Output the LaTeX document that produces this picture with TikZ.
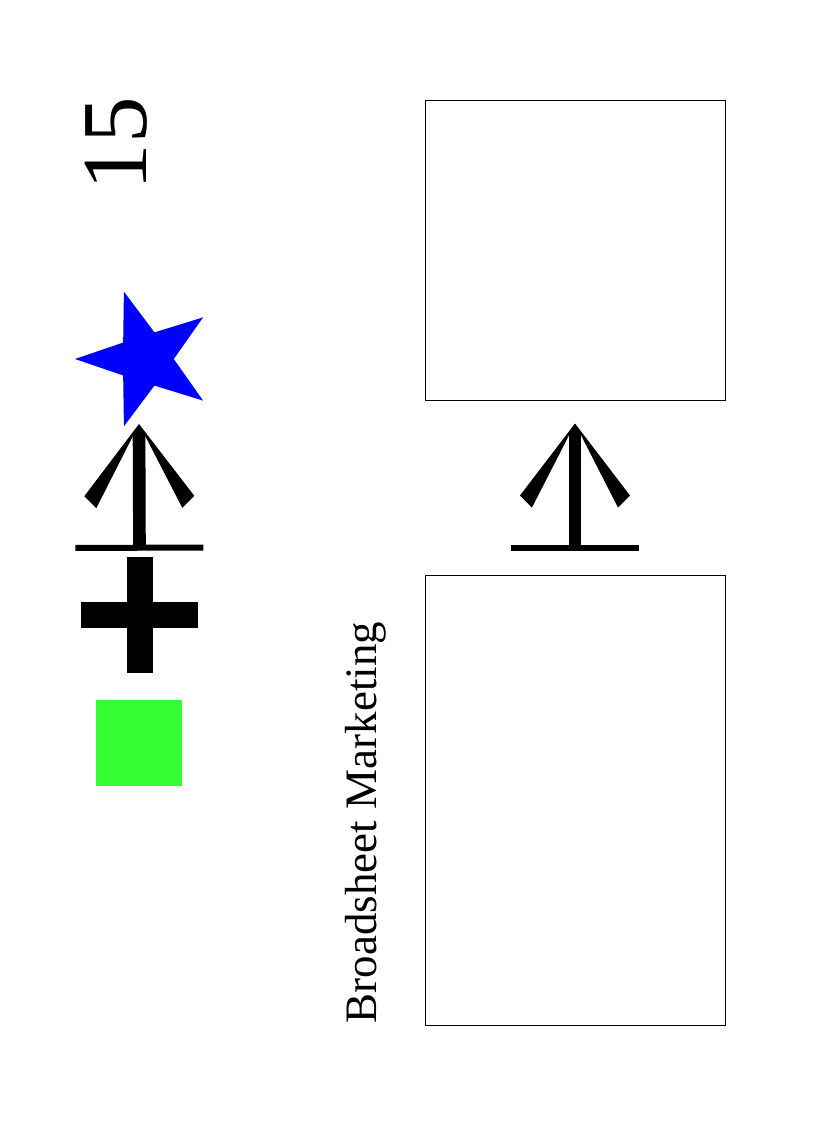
\documentclass[tikz,border=0pt]{standalone}
\usepackage{fontspec}
\setmainfont{Liberation Serif}
\usetikzlibrary{shapes.geometric, arrows.meta, positioning}
\definecolor{starblue}{RGB}{0, 0, 255}
\definecolor{tilegreen}{RGB}{51, 255, 51}
\pgfdeclarearrow{
    name = Wedge Barb,
    setup code = {
        \pgfarrowssettipend{0pt}
        \pgfarrowssetlineend{-7.5pt}
        \pgfarrowssetvisualbackend{-63pt}
    },
    drawing code = {
        \pgfpathmoveto{\pgfpointorigin}
        \pgfpathlineto{\pgfpoint{-54pt}{41.25pt}}
        \pgfpathlineto{\pgfpoint{-63pt}{32.25pt}}
        \pgfpathlineto{\pgfpoint{-9pt}{4.6pt}}
        \pgfpathlineto{\pgfpoint{-9pt}{-4.6pt}}
        \pgfpathlineto{\pgfpoint{-63pt}{-32.25pt}}
        \pgfpathlineto{\pgfpoint{-54pt}{-41.25pt}}
        \pgfpathclose
        \pgfusepathqfill
    }
}
\tikzset{
    box/.style={
        rectangle, draw=black, line width=0.75pt, inner sep=0pt,
        minimum width=225pt
    },
    link/.style={{Bar[width=96pt, line width=4.5pt]}-{Wedge Barb}, line width=9.5pt},
    bigstar/.style={
        star, star points=5, star point ratio=2.53, shape border rotate=90,
        minimum size=106.2pt, inner sep=0pt, fill=starblue
    },
    tile/.style={rectangle, minimum size=64.5pt, inner sep=0pt, fill=tilegreen},
    crossbox/.style={rectangle, minimum size=87pt, inner sep=0pt},
    sidelabel/.style={rotate=90, anchor=base, inner sep=0pt},
}
\begin{document}
\begin{tikzpicture}[x=0.75pt, y=-0.75pt]
    \useasboundingbox (0,0) rectangle (825,1125);

    \node[box, minimum height=225pt] (upper) at (575,250) {};
    \node[box, minimum height=337.5pt] (lower) at (575,800) {};

    \node[bigstar] (star) at (145.8,359) {};
    \node[crossbox] (plus) at (139.5,615) {};
    \fill ([xshift=-9.75pt]plus.north) rectangle ([xshift=9.75pt]plus.south);
    \fill ([yshift=9.75pt]plus.west) rectangle ([yshift=-9.75pt]plus.east);
    \node[tile] (square) at (139,743) {};

    \coordinate (startip) at (139,424);
    \draw[link, shorten <=4.5pt] (plus.north) -- (startip);
    \draw[link, shorten <=18pt, shorten >=17.25pt] (lower.north) -- (upper.south);

    \node[sidelabel, font=\fontsize{69.75pt}{70pt}\selectfont] (number) at (146,143.8) {15};
    \node[sidelabel, font=\fontsize{33.75pt}{36pt}\selectfont] (caption) at (376,822.5) {Broadsheet Marketing};
\end{tikzpicture}
\end{document}
